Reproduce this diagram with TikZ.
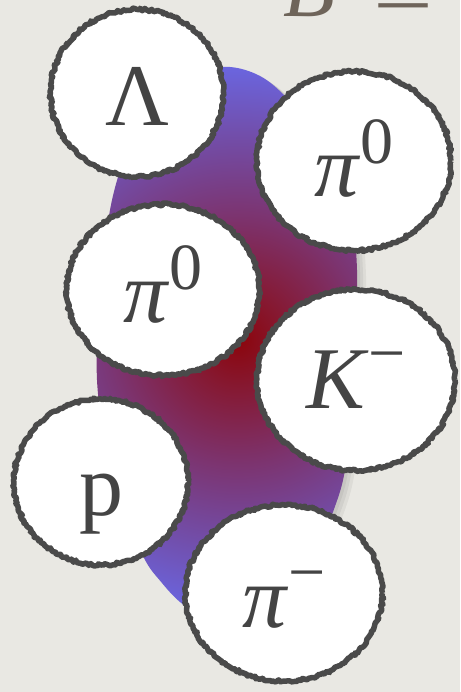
\documentclass[tikz,border=0pt]{standalone}
\usepackage{fontspec}
\setmainfont{Liberation Serif}
\usetikzlibrary{shapes.geometric,decorations.pathmorphing}
\definecolor{bg}{RGB}{233,232,227}
\definecolor{ink}{RGB}{68,68,68}
\definecolor{rim}{RGB}{74,74,74}
\definecolor{bcol}{RGB}{110,100,90}
\definecolor{blobred}{RGB}{140,5,12}
\definecolor{blobredb}{RGB}{134,24,48}
\definecolor{blobmid}{RGB}{124,52,112}
\definecolor{blobpb}{RGB}{114,78,170}
\definecolor{blobblue}{RGB}{105,105,232}
\pgfdeclareradialshading{blobshade}{\pgfpoint{0bp}{0bp}}{color(0bp)=(blobred); color(4bp)=(blobredb); color(11bp)=(blobmid); color(18bp)=(blobpb); color(25bp)=(blobblue); color(50bp)=(blobblue)}
\newcommand\psup[1]{\raisebox{33pt}{\fontsize{66}{66}\selectfont #1}}
\tikzset{
  particle/.style={ellipse, draw=rim, fill=white, line width=5.5pt, inner sep=0pt,
    decorate, decoration={random steps, segment length=2pt, amplitude=1.4pt},
    line join=round, text=ink, font=\fontsize{88}{88}\selectfont, text depth=0pt},
  title/.style={anchor=base west, text=bcol, font=\fontsize{85}{85}\selectfont, inner sep=0pt},
  blobshadow/.style={fill=black, opacity=0.05}
}
\def\blobpath{plot[smooth cycle, tension=0.6] coordinates {(230,67) (260,76) (285,96) (312,127) (336,170) (352,220) (357,270) (356,330) (352,400) (345,470) (333,512) (316,553) (292,592) (262,617) (228,624) (200,615) (180,602) (162,583) (144,558) (124,508) (107,448) (97,380) (100,300) (112,200) (138,128) (172,88) (202,72)}}
\begin{document}
\begin{tikzpicture}[x=1pt,y=-1pt]
\pgfmathsetmacro\dummyseed{1}
\pgfmathsetseed{11}
\fill[bg] (0,0) rectangle (460,692);
\useasboundingbox (0,0) rectangle (460,692);
% title, cut off by the top edge
\begin{scope}
\clip (0,0) rectangle (460,692);
\node[title] (ttl) at (283,17) {\textit{B}\hspace{38pt}\raisebox{-9pt}{\scalebox{1.25}[1]{=}}};
\end{scope}
% blob with soft shadow
\fill[blobshadow, xshift=3pt, yshift=-2pt] \blobpath;
\fill[blobshadow, xshift=6pt, yshift=-4pt] \blobpath;
\fill[blobshadow, xshift=9pt, yshift=-6pt] \blobpath;
\begin{scope}
\clip \blobpath;
\shade[shading=blobshade] (238,340) circle (285);
\end{scope}
% particles
\node[particle, minimum width=173pt, minimum height=167pt, text height=66pt] (lam) at (137,93) {Λ};
\node[particle, minimum width=194pt, minimum height=179pt, text height=72pt] (pizA) at (354,161) {\textit{π}\psup{0}};
\node[particle, minimum width=193pt, minimum height=171pt, text height=64pt] (pizB) at (163,290) {\textit{π}\psup{0}};
\node[particle, minimum width=198pt, minimum height=181pt, text height=56pt] (km) at (356,380) {\textit{K}\psup{−}};
\node[particle, minimum width=174pt, minimum height=166pt, text height=66pt] (pr) at (101,482) {p};
\node[particle, minimum width=197pt, minimum height=176pt, text height=68pt] (pim) at (284,593) {\textit{π}\psup{−}};
\end{tikzpicture}
\end{document}
